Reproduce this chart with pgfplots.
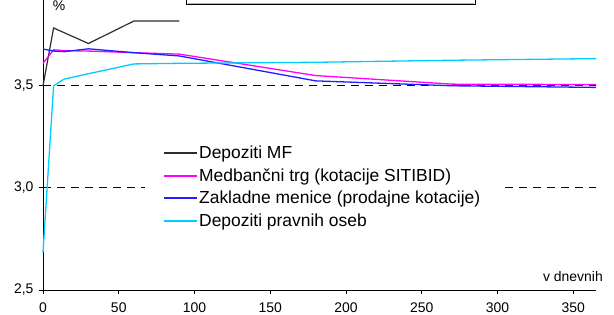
\documentclass[border=0pt]{standalone}
\usepackage{pgfplots}
\pgfplotsset{compat=1.18}
\usepackage{fontspec}
\setmainfont{Liberation Sans}
\definecolor{mfgray}{RGB}{45,45,45}
\definecolor{mmag}{RGB}{255,0,255}
\definecolor{mblue}{RGB}{30,30,255}
\definecolor{mcyan}{RGB}{0,204,255}
\begin{document}
\begin{tikzpicture}[x=1bp,y=1bp]
\useasboundingbox (-43,-24) rectangle (571,290);
\begin{axis}[
  at={(0,0)}, anchor=south west,
  scale only axis, width=553bp, height=290bp,
  xmin=0, xmax=365, ymin=2.5, ymax=3.92,
  axis x line=bottom, axis y line=left,
  axis line style={-, black, line width=0.8bp},
  tick align=outside, major tick length=4bp,
  tick style={black, line width=0.8bp},
  xtick={0,50,...,350},
  ytick={2.5,3,3.5},
  yticklabels={{2,5},{3,0},{3,5}},
  ymajorgrids, grid style={black, line width=0.8bp, dash pattern=on 8bp off 6bp},
  /pgf/number format/assume math mode=true,
  ticklabel style={font=\fontsize{14}{16}\selectfont},
  xticklabel style={yshift=-5bp},
  yticklabel style={xshift=-2bp},
  clip=false,
  legend cell align=left,
  legend image code/.code={\draw[#1, line width=1.8bp] (0bp,0bp) -- (33bp,0bp);},
  legend style={draw=none, fill=white, at={(0.1844,0.522)}, anchor=north west,
    font=\fontsize{17.5}{19}\selectfont, inner xsep=18bp, inner ysep=6bp,
    row sep=6bp, nodes={inner sep=1.2bp}},
]
\addplot[mfgray, line width=1.2bp] coordinates {(0,3.50) (7,3.783) (30,3.707) (60,3.817) (90,3.817)};
\addlegendentry{Depoziti MF}
\addplot[mmag, line width=1.3bp] coordinates {(0,3.61) (7,3.676) (14,3.672) (30,3.670) (60,3.662) (90,3.655) (180,3.550) (270,3.508) (365,3.506)};
\addlegendentry{Medbančni trg (kotacije SITIBID)}
\addplot[mblue, line width=1.3bp] coordinates {(0,3.680) (7,3.670) (14,3.667) (30,3.681) (60,3.662) (90,3.646) (180,3.524) (270,3.500) (365,3.492)};
\addlegendentry{Zakladne menice (prodajne kotacije)}
\addplot[mcyan, line width=1.3bp] coordinates {(0,2.683) (7,3.500) (14,3.533) (30,3.559) (60,3.607) (90,3.610) (180,3.615) (270,3.625) (365,3.633)};
\addlegendentry{Depoziti pravnih oseb}
\end{axis}
\draw[black, line width=0.9bp, fill=white] (143,285.5) rectangle (432,320);
\draw[gray!60, line width=0.6bp] (144.5,287) -- (430.5,287);
\node[anchor=base, font=\fontsize{14}{16}\selectfont, inner sep=0] at (16,280) {\%};
\node[anchor=base east, font=\fontsize{14}{16}\selectfont, inner sep=0] at (560,9) {v dnevnih};
\end{tikzpicture}
\end{document}
